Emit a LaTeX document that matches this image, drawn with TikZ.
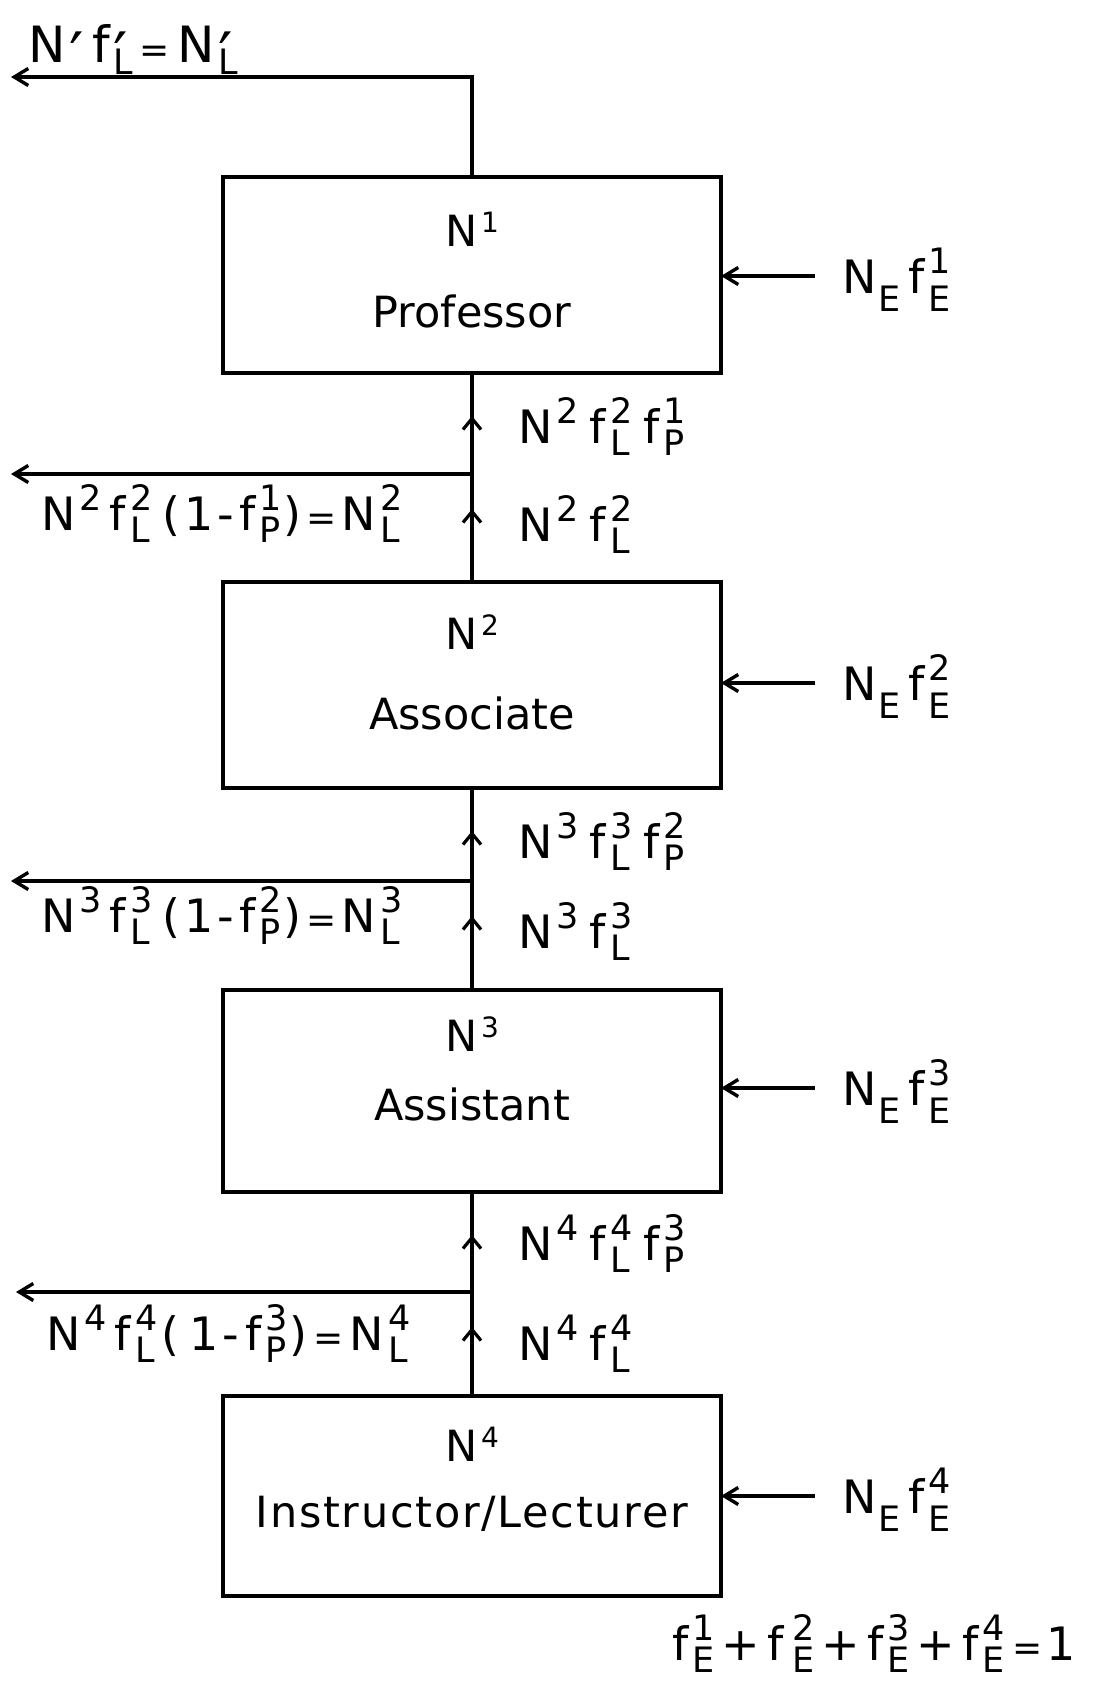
\documentclass[tikz,border=0pt]{standalone}
\usepackage{fontspec}
\setmainfont{DejaVu Sans}
\usetikzlibrary{arrows.meta,decorations.markings}
\newdimen\suprise \suprise=20pt
\newdimen\sublower \sublower=12pt
\newcommand\scrsize{\fontsize{35}{35}\selectfont}
\newcommand\upper[1]{\kern4pt\raise\suprise\hbox{\scrsize #1}}
\newcommand\lowr[1]{\kern2pt\lower\sublower\hbox{\scrsize #1}}
\newcommand\supsub[2]{\kern4pt\hbox{\setbox0=\hbox{\scrsize #1}\setbox2=\hbox{\scrsize #2}\ifdim\wd0>\wd2 \dimen0=\wd0 \else \dimen0=\wd2 \fi\hbox to\dimen0{\raise\suprise\hbox to 0pt{\box0\hss}\lower\sublower\box2\hfil}}}
\newcommand\bsup[1]{\kern4pt\raise14pt\hbox{\fontsize{28}{28}\selectfont #1}}
\newcommand\prm{\hbox{\setbox4=\hbox{\lower16pt\hbox{\fontsize{64}{64}\selectfont ′}}\dp4=0pt \box4}}
\newcommand\lblfont{\fontsize{46}{46}\selectfont}
\newcommand\boxfont{\fontsize{43}{43}\selectfont}
\tikzset{
  box/.style={draw,line width=3.8pt,minimum width=498pt,inner sep=0pt,outer sep=0pt},
  btxt/.style={font=\boxfont,inner sep=0pt,anchor=base},
  lbl/.style={font=\lblfont,inner sep=0pt,anchor=base west},
  nelbl/.style={font={\lblfont\sublower=18pt},inner sep=0pt,anchor=base west},
  flow/.style={line width=3.4pt},
  barb/.style={-{Straight Barb[length=14pt,width=17pt,line width=3.4pt]}},
  upmarks/.style 2 args={postaction={decorate},decoration={markings,
    mark=at position #1pt with {\arrow{Straight Barb[length=11pt,width=18pt,line width=3.2pt]}},
    mark=at position #2pt with {\arrow{Straight Barb[length=11pt,width=18pt,line width=3.2pt]}}}}
}
\begin{document}
\begin{tikzpicture}[x=1pt,y=-1pt]
\fill[white] (0,0) rectangle (1098,1681);
\useasboundingbox (0,0) rectangle (1098,1681);

% boxes
\node[box,minimum height=196pt] (b1) at (472,275) {};
\node[box,minimum height=206pt] (b2) at (472,685) {};
\node[box,minimum height=202pt] (b3) at (472,1091) {};
\node[box,minimum height=200pt] (b4) at (472,1496) {};

% box texts
\node[btxt] (b1n) at (472,246) {N\bsup{1}};
\node[btxt] (b1t) at (472,327) {Professor};
\node[btxt] (b2n) at (472,649) {N\bsup{2}};
\node[btxt] (b2t) at (472,729) {Associate};
\node[btxt] (b3n) at (472,1051) {N\bsup{3}};
\node[btxt] (b3t) at (472,1120) {Assistant};
\node[btxt] (b4n) at (472,1461) {N\bsup{4}};
\node[btxt] (b4t) at (472,1527) {\addfontfeature{LetterSpace=4.0}Instructor/Lecturer};

% exit coordinates
\coordinate (x0) at (11,77);
\coordinate (j1) at (472,474);
\coordinate (x1) at (11,474);
\coordinate (j2) at (472,881);
\coordinate (x2) at (11,881);
\coordinate (j3) at (472,1292);
\coordinate (x3) at (16,1292);

% vertical flows
\draw[flow,barb] (b1.north) |- (x0);
\draw[flow,upmarks={73}{166}] (b2.north) -- (b1.south);
\draw[flow,upmarks={74}{159}] (b3.north) -- (b2.south);
\draw[flow,upmarks={69}{161}] (b4.north) -- (b3.south);
\draw[flow,barb] (j1) -- (x1);
\draw[flow,barb] (j2) -- (x2);
\draw[flow,barb] (j3) -- (x3);

% entries
\coordinate (e1) at (815,276);
\coordinate (e2) at (815,683);
\coordinate (e3) at (815,1088);
\coordinate (e4) at (815,1496);
\draw[flow,barb] (e1) -- (e1 -| b1.east);
\draw[flow,barb] (e2) -- (e2 -| b2.east);
\draw[flow,barb] (e3) -- (e3 -| b3.east);
\draw[flow,barb] (e4) -- (e4 -| b4.east);

\node[nelbl] (n1) at (842,293) {N\lowr{E}\kern8pt f\supsub{1}{E}};
\node[nelbl] (n2) at (842,700) {N\lowr{E}\kern8pt f\supsub{2}{E}};
\node[nelbl] (n3) at (842,1105) {N\lowr{E}\kern8pt f\supsub{3}{E}};
\node[nelbl] (n4) at (842,1513) {N\lowr{E}\kern8pt f\supsub{4}{E}};

% right flow labels
\node[lbl] (r1a) at (518,443) {N\upper{2}\kern11pt f\supsub{2}{L}\kern11pt f\supsub{1}{P}};
\node[lbl] (r1b) at (518,541) {N\upper{2}\kern11pt f\supsub{2}{L}};
\node[lbl] (r2a) at (518,858) {N\upper{3}\kern11pt f\supsub{3}{L}\kern11pt f\supsub{2}{P}};
\node[lbl] (r2b) at (518,948) {N\upper{3}\kern11pt f\supsub{3}{L}};
\node[lbl] (r3a) at (518,1260) {N\upper{4}\kern11pt f\supsub{4}{L}\kern11pt f\supsub{3}{P}};
\node[lbl] (r3b) at (518,1360) {N\upper{4}\kern11pt f\supsub{4}{L}};

% left labels
\node[lbl] (l0) at (28,62) {\fontsize{50}{50}\selectfont\suprise=0pt N\upper{\prm}\kern8pt f\supsub{\prm}{L}\kern6pt{\fontsize{36}{36}\selectfont=}\kern8pt N\supsub{\prm}{L}};
\node[lbl] (l1) at (41,530) {N\upper{2}\kern8pt f\supsub{2}{L}\kern10pt(\kern4pt1\kern4pt-\kern5pt f\supsub{1}{P}\kern2pt)\kern5pt{\fontsize{36}{36}\selectfont=}\kern5pt N\supsub{2}{L}};
\node[lbl] (l2) at (41,932) {N\upper{3}\kern8pt f\supsub{3}{L}\kern10pt(\kern4pt1\kern4pt-\kern5pt f\supsub{2}{P}\kern2pt)\kern5pt{\fontsize{36}{36}\selectfont=}\kern5pt N\supsub{3}{L}};
\node[lbl] (l3) at (46,1350) {N\upper{4}\kern8pt f\supsub{4}{L}\kern4pt(\kern10pt1\kern4pt-\kern6pt f\supsub{3}{P}\kern2pt)\kern6pt{\fontsize{36}{36}\selectfont=}\kern6pt N\supsub{4}{L}};

% sum
\node[nelbl] (sum) at (672,1660) {\sublower=12pt f\supsub{1}{E}\kern7pt+\kern7pt f\kern5pt\supsub{2}{E}\kern7pt+\kern7pt f\supsub{3}{E}\kern7pt+\kern7pt f\supsub{4}{E}\kern8pt{\fontsize{36}{36}\selectfont=}\kern4pt1};
\end{tikzpicture}
\end{document}
